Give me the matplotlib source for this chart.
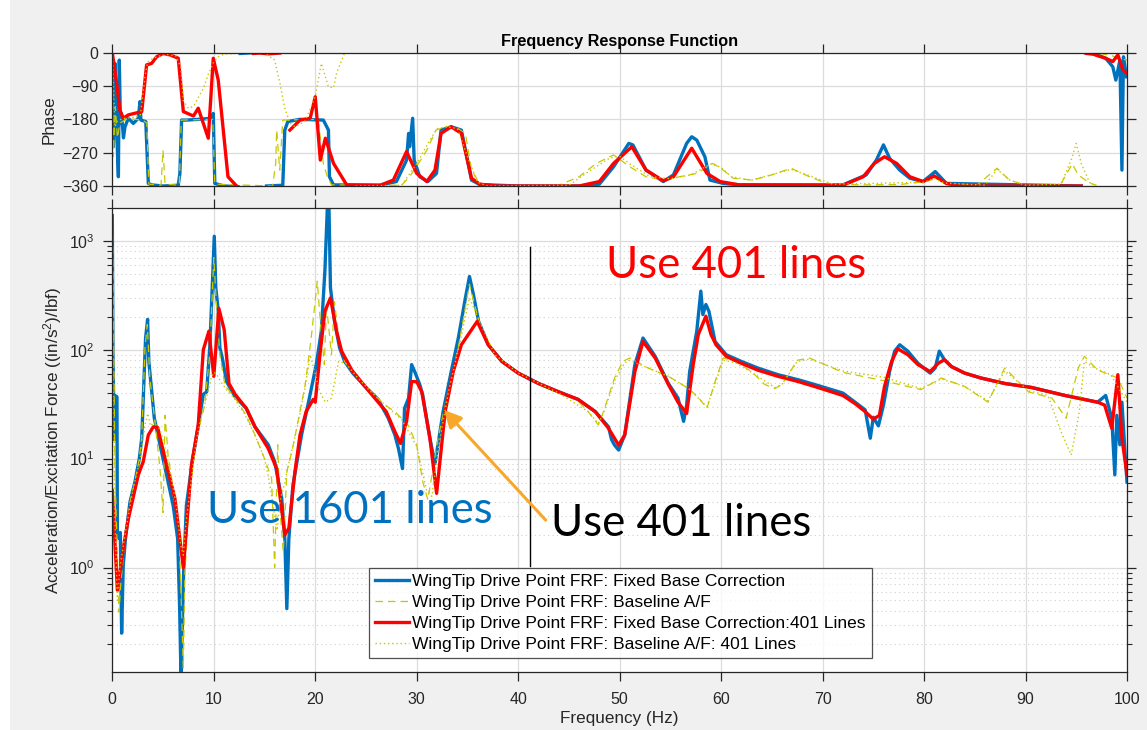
import matplotlib
matplotlib.use("Agg")
import matplotlib.pyplot as plt
import numpy as np
from matplotlib.patches import Rectangle

nan = np.nan

# ---- magnitude (Acceleration/Excitation Force) ----
mag_fixed = [
    (0, 1700), (0.07, 84), (0.2, 15), (0.26, 38), (0.46, 37), (0.5, 2.1), (0.66, 1.85),
    (0.79, 2.1), (0.92, 0.25), (1.08, 1.05), (1.3, 1.85), (1.74, 4.0), (2.23, 6.1),
    (2.66, 10), (2.9, 15.4), (3.28, 128), (3.48, 190), (3.6, 78), (4.14, 23.5),
    (4.7, 13.4), (5.35, 7.1), (6.0, 3.7), (6.44, 1.85), (6.63, 0.45), (6.77, 0.1),
    (7.03, 0.91), (7.3, 3.7), (7.88, 9.4), (8.47, 20), (8.97, 39), (9.3, 41),
    (9.62, 111), (9.85, 370), (10.05, 1100), (10.2, 370), (10.45, 225), (10.6, 104),
    (10.84, 84), (11.26, 51), (12.1, 37), (13.2, 29), (14.06, 19.6), (15.37, 13.4),
    (16.0, 9.4), (16.7, 4.3), (17.0, 1.85), (17.2, 0.42), (17.4, 1.85), (17.8, 5.7),
    (18.65, 16.5), (19.5, 39), (20.1, 73), (20.6, 148), (20.95, 525), (21.2, 2100),
    (21.35, 2100), (21.5, 370), (21.9, 182), (22.4, 104), (22.9, 78), (23.7, 61),
    (24.9, 46), (26.2, 35), (27.2, 23.5), (27.85, 16.5), (28.2, 12.4), (28.6, 8.1),
    (28.8, 29), (29.2, 36), (29.5, 73), (29.8, 63), (30.3, 48), (30.6, 38),
    (31.3, 15.4), (31.8, 9), (32.6, 27), (33.4, 63), (34.1, 128), (34.8, 299),
    (35.2, 470), (35.6, 318), (36.1, 182), (37.05, 111), (38.4, 78), (40.0, 61),
    (42.0, 49), (44.0, 41), (45.9, 35), (47.6, 27), (48.9, 19.6), (49.2, 15),
    (49.5, 13.3), (49.9, 12), (50.5, 16.5), (51.5, 73), (52.3, 128), (53.5, 87),
    (54.8, 49), (55.75, 36), (56.3, 22), (56.6, 31), (56.9, 63), (57.6, 148),
    (58.0, 345), (58.2, 210), (58.5, 260), (58.8, 225), (59.4, 119), (60.5, 90),
    (62.0, 78), (63.6, 68), (65.6, 59), (67.6, 53), (69.2, 48), (70.9, 43),
    (72.0, 40), (73.2, 33), (74.2, 28), (74.7, 15.4), (75.0, 24), (75.5, 20),
    (76.0, 31), (76.6, 63), (77.1, 97), (77.6, 111), (78.4, 97), (79.4, 75),
    (80.6, 61), (81.1, 68), (81.5, 97), (82.0, 81), (82.7, 70), (84.0, 61),
    (85.6, 55), (87.95, 49), (90.6, 45), (93.9, 38), (97.1, 33), (97.9, 38),
    (98.5, 23.5), (98.8, 7.1), (99.0, 25), (99.3, 13.4), (99.5, 33), (99.8, 11.6),
    (100, 6.1),
]

mag_baseline = [
    (0, 1500), (0.07, 525), (0.26, 7.6), (0.66, 0.39), (0.85, 0.74), (1.25, 1.85),
    (1.74, 4.0), (2.23, 6.1), (2.66, 10), (2.9, 16), (3.22, 104), (3.45, 170),
    (3.7, 55), (4.2, 22), (4.7, 8.1), (5.0, 3.2), (5.2, 25), (5.5, 10.6), (6.0, 5.3),
    (6.6, 1.85), (7.0, 0.12), (7.16, 0.91), (7.65, 5.3), (8.3, 15.4), (9.1, 31),
    (9.6, 90), (10.0, 700), (10.3, 225), (10.6, 90), (11.1, 47), (12.1, 36),
    (13.2, 25), (14.06, 16.5), (15.0, 10), (15.7, 6.6), (16.0, 1.0), (16.3, 13.4),
    (16.5, 3.7), (16.85, 1.4), (17.2, 7.6), (17.7, 11.6), (18.3, 22), (19.0, 47),
    (19.6, 128), (20.2, 425), (20.5, 182), (20.9, 73), (21.1, 260), (21.6, 90),
    (21.9, 275), (22.4, 111), (22.9, 78), (24.2, 55), (25.5, 41), (26.9, 31),
    (27.85, 27), (28.5, 23.5), (29.2, 20), (30.0, 13.4), (30.6, 6.1), (31.1, 4.2),
    (32.1, 15.4), (33.1, 41), (34.1, 104), (35.2, 400), (35.7, 260), (36.4, 148),
    (37.7, 90), (40.0, 61), (42.0, 49), (44.0, 40), (45.6, 36), (46.9, 27),
    (47.9, 20.4), (48.4, 27), (49.5, 55), (50.3, 78), (51.0, 84), (52.8, 68),
    (54.8, 57), (56.8, 44), (57.8, 36), (58.6, 29), (59.4, 51), (60.2, 84),
    (61.4, 78), (63.0, 63), (64.3, 48), (65.3, 44), (66.0, 48), (67.5, 80),
    (68.7, 84), (72.0, 62), (76.0, 52), (79.7, 43), (81.7, 55), (84.0, 46),
    (86.3, 33), (87.95, 68), (90.3, 41), (92.6, 36), (94.0, 23.5), (95.2, 68),
    (95.8, 87), (97.1, 65), (99.1, 55), (100, 36),
]

mag_fixed_401 = [
    (0, 5.1), (0.5, 0.62), (1.08, 1.5), (1.58, 2.8), (2.56, 7.1), (3.05, 9.4),
    (3.55, 16.5), (4.04, 19.6), (4.47, 19.3), (5.35, 8.7), (6.17, 4.3), (7.0, 1.0),
    (7.8, 8.7), (8.47, 20.4), (8.97, 100), (9.52, 148), (10.0, 57), (10.5, 240),
    (11.03, 152), (11.5, 49), (12.1, 39), (13.2, 29), (14.06, 19.6), (15.37, 12.4),
    (16.2, 8.1), (17.0, 2.0), (17.4, 2.3), (18.0, 7.6), (18.5, 16.5), (19.1, 27),
    (19.8, 35), (20.0, 33), (20.5, 97), (20.95, 225), (21.5, 299), (22.1, 148),
    (22.6, 97), (23.6, 65), (24.9, 46), (26.2, 33), (27.0, 27), (27.85, 17.7),
    (28.4, 13.8), (29.0, 22), (29.5, 51), (30.0, 51), (30.5, 41), (31.3, 15.4),
    (31.96, 4.8), (32.8, 27), (33.6, 63), (34.4, 111), (35.96, 182), (37.05, 111),
    (38.4, 78), (40.0, 61), (42.0, 49), (44.0, 41), (45.9, 35), (47.6, 27),
    (48.9, 19), (49.9, 13.3), (50.5, 16.5), (51.5, 63), (52.3, 119), (53.5, 84),
    (54.8, 48), (55.75, 33), (56.6, 26), (57.25, 73), (57.75, 138), (58.5, 203),
    (59.0, 138), (59.5, 111), (60.5, 87), (62.0, 75), (63.6, 65), (65.6, 57),
    (67.6, 51), (69.2, 46), (70.9, 41), (72.0, 38), (73.2, 32), (74.2, 27),
    (75.0, 23), (75.6, 25), (76.1, 46), (76.8, 78), (77.4, 102), (78.4, 90),
    (79.4, 73), (80.6, 63), (81.4, 75), (82.0, 81), (82.7, 70), (84.0, 61),
    (85.6, 55), (87.95, 49), (90.6, 45), (93.9, 38), (97.1, 33), (97.8, 31),
    (98.5, 19), (99.1, 59), (99.5, 15.4), (100, 7.1),
]

mag_baseline_401 = [
    (0, 900), (0.25, 3), (0.5, 0.5), (0.75, 1.0), (1.25, 2), (2.0, 5), (2.75, 10),
    (3.25, 21), (3.5, 26), (3.75, 20), (4.25, 22), (4.75, 18), (5.25, 12), (5.75, 7),
    (6.25, 4), (6.75, 1.6), (7.0, 1.3), (7.25, 2.5), (7.75, 6), (8.25, 14),
    (8.75, 24), (9.25, 35), (9.75, 55), (10.0, 62), (10.25, 60), (10.75, 50),
    (11.25, 43), (12.0, 36), (13.0, 26), (14.0, 17), (15.0, 10), (15.5, 6), (16.0, 3),
    (16.25, 2.2), (16.5, 4), (17.0, 6), (17.5, 10), (18.25, 20), (19.0, 45),
    (19.5, 90), (20.0, 60), (20.5, 40), (21.0, 33), (21.6, 36), (22.3, 78),
    (23.0, 75), (24.2, 55), (25.5, 41), (26.9, 31), (28.5, 23), (30.0, 13),
    (31.0, 5), (31.5, 4.5), (32.1, 12), (33.1, 40), (34.1, 100), (35.2, 300),
    (36.0, 200), (37.7, 90), (40.0, 61), (44.0, 40), (46.9, 27), (47.9, 21),
    (48.4, 26), (49.5, 52), (50.5, 76), (51.0, 80), (52.8, 68), (54.8, 57),
    (56.8, 44), (58.6, 30), (59.4, 48), (60.2, 80), (61.4, 76), (63.0, 62),
    (65.3, 45), (66.0, 48), (67.5, 78), (68.7, 82), (72.0, 64), (76.0, 56),
    (79.7, 44), (81.7, 54), (84.0, 46), (86.3, 34), (87.95, 64), (90.3, 42),
    (92.2, 38), (93.5, 17.7), (94.5, 10.8), (95.3, 27), (95.8, 78), (96.8, 68),
    (98.4, 59), (100, 33),
]

# ---- phase (deg), nan = wrapped off the axes ----
ph_fixed = [
    (0, 0), (0.1, -254), (0.26, -29), (0.43, -209), (0.6, -335), (0.69, -20),
    (0.8, -191), (0.9, -164), (1.1, -230), (1.25, -200), (1.58, -177), (2.07, -191),
    (2.56, -177), (2.73, -132), (2.82, -182), (3.3, -186), (3.55, -353), (3.87, -357),
    (5.0, -360), (6.5, -358), (6.66, -326), (6.83, -182), (7.3, -182), (8.5, -180),
    (9.8, -177), (9.95, -164), (10.1, -353), (11.0, -360), (12.4, -362), (12.5, nan),
    (12.6, -2), (13.9, 0), (14.0, nan), (15.2, -360), (16.8, -358), (17.0, -209),
    (17.3, -186), (18.5, -180), (20.8, -182), (21.3, -209), (21.4, -335),
    (21.8, -357), (26.4, -358), (28.0, -348), (29.0, -290), (29.2, -218),
    (29.3, -254), (29.6, -177), (29.75, -290), (30.3, -335), (31.1, -348),
    (31.95, -326), (32.4, -209), (33.4, -200), (34.4, -209), (35.4, -344),
    (36.2, -356), (40.0, -360), (46.0, -360), (48.0, -355), (49.4, -308),
    (50.9, -245), (51.3, -249), (52.6, -317), (54.3, -348), (55.3, -330),
    (56.6, -245), (57.1, -227), (57.6, -236), (58.4, -281), (58.9, -344),
    (60.2, -353), (61.8, -357), (72.0, -357), (74.3, -330), (75.3, -290),
    (76.0, -249), (76.6, -285), (77.6, -317), (78.6, -339), (79.9, -348),
    (81.1, -321), (82.2, -353), (95.5, -360), (95.7, nan), (95.9, 0), (96.65, -2),
    (97.9, -15), (98.6, -38), (98.9, -74), (99.3, -20), (99.5, -317), (99.65, -11),
    (99.95, -65),
]

ph_baseline = [
    (0, 0), (0.1, -280), (0.3, -146), (0.5, -230), (0.75, -190), (1.5, -178),
    (3.0, -182), (3.4, -190), (3.6, -355), (4.8, -358), (5.0, -263), (5.2, -355),
    (6.6, -358), (6.8, -182), (9.9, -180), (10.1, -355), (15.8, -360), (16.1, -300),
    (16.2, -209), (16.5, -317), (16.8, -182), (20.3, -180), (20.5, -230),
    (20.8, -300), (21.2, -335), (21.6, -357), (28.5, -358), (29.3, -335),
    (30.6, -281), (31.0, -263), (31.9, -209), (32.9, -200), (33.8, -200),
    (34.8, -218), (35.4, -317), (36.2, -353), (37.0, -360), (44.0, -358),
    (46.0, -335), (47.7, -299), (49.4, -276), (51.0, -308), (52.6, -335),
    (54.3, -344), (55.9, -335), (57.6, -326), (59.2, -299), (60.2, -317),
    (61.2, -339), (63.1, -344), (65.0, -330), (66.9, -312), (68.7, -335),
    (70.4, -353), (73.7, -357), (77.6, -356), (80.2, -348), (81.2, -339),
    (82.2, -353), (85.2, -358), (87.2, -312), (88.4, -344), (90.1, -358),
    (93.4, -358), (94.2, -320), (94.6, -300), (95.2, -330), (96.3, -352),
    (97.0, -358), (97.1, nan), (97.3, -2), (98.5, -8), (99.2, -15), (100, -20),
]

ph_fixed_401 = [
    (0, 0), (0.43, -83), (0.75, -155), (1.08, -177), (1.58, -168), (2.9, -159),
    (3.38, -33), (3.87, -29), (4.37, -11), (5.0, -2), (5.7, -6), (6.5, -15),
    (7.0, -159), (8.0, -171), (8.47, -150), (9.46, -231), (9.95, -15), (10.44, -74),
    (11.4, -335), (12.25, -360), (12.5, nan), (13.9, -2), (14.5, -1), (15.4, -3),
    (16.5, -1), (16.7, nan), (17.5, -209), (18.5, -182), (19.5, -177), (20.0, -119),
    (20.5, -290), (21.0, -231), (21.8, -299), (23.1, -357), (26.4, -358),
    (27.7, -344), (29.0, -267), (30.0, -326), (31.0, -348), (31.8, -317),
    (32.4, -218), (33.4, -200), (34.4, -218), (35.4, -339), (36.2, -355),
    (37.9, -360), (46.0, -360), (48.0, -348), (49.4, -299), (51.2, -254),
    (52.6, -317), (54.3, -346), (55.3, -335), (57.1, -258), (58.6, -326),
    (59.9, -348), (61.8, -357), (72.0, -358), (74.0, -335), (75.1, -299),
    (76.1, -281), (77.3, -299), (78.6, -335), (79.9, -348), (81.0, -333),
    (82.2, -353), (83.5, -360), (95.5, -360), (95.7, nan), (96.0, -2), (96.65, -4),
    (97.9, -15), (98.6, -24), (99.1, -6), (99.6, -47), (99.95, -54),
]

ph_baseline_401 = [
    (0, 0), (0.25, -200), (0.5, -185), (1.0, -178), (2.0, -175), (2.75, -170),
    (3.25, -60), (3.5, -25), (4.0, -15), (4.75, -8), (5.5, -5), (6.25, -8),
    (6.75, -40), (7.0, -130), (7.5, -150), (8.0, -145), (8.5, -120), (9.0, -95),
    (9.5, -55), (10.0, -25), (10.5, -10), (11.0, -4), (12.0, -2), (13.0, 0),
    (15.0, 0), (16.0, -20), (16.5, -80), (17.0, -150), (17.5, -190), (18.0, -200),
    (19.0, -185), (20.0, -118), (20.6, -29), (21.3, -92), (21.8, -95), (22.1, -55),
    (22.9, 0), (23.0, nan), (24.0, -360), (28.5, -358), (30.0, -300), (31.0, -250),
    (32.0, -205), (33.0, -200), (34.0, -205), (35.0, -280), (36.0, -350),
    (37.0, -360), (45.0, -358), (47.0, -320), (49.0, -285), (50.0, -280),
    (51.0, -300), (53.0, -335), (55.0, -340), (57.0, -330), (59.0, -300),
    (60.0, -310), (61.0, -335), (63.0, -344), (66.9, -315), (69.0, -335),
    (71.0, -355), (80.0, -350), (81.0, -340), (82.0, -352), (86.0, -358),
    (87.2, -315), (88.5, -345), (90.0, -358), (93.5, -355), (94.5, -290),
    (95.0, -245), (95.5, -300), (96.3, -350), (97.0, -360),
]

labels = [
    "WingTip Drive Point FRF: Fixed Base Correction",
    "WingTip Drive Point FRF: Baseline A/F",
    "WingTip Drive Point FRF: Fixed Base Correction:401 Lines",
    "WingTip Drive Point FRF: Baseline A/F: 401 Lines",
]

BLUE = "#0072BD"
RED = "#FF0000"
YEL = "#C8C800"
AXC = "#262626"
GRID = "#dcdcdc"

styles = [
    dict(color=BLUE, lw=2.4, ls="-"),
    dict(color=YEL, lw=0.9, ls=(0, (6, 4))),
    dict(color=RED, lw=2.4, ls="-"),
    dict(color=YEL, lw=1.0, ls=(0, (1, 2))),
]

plt.rcParams["font.family"] = ["Liberation Sans", "DejaVu Sans"]
plt.rcParams["font.size"] = 11.5
plt.rcParams["mathtext.fontset"] = "custom"
plt.rcParams["mathtext.rm"] = "Liberation Sans"
plt.rcParams["mathtext.it"] = "Liberation Sans:italic"

fig = plt.figure(figsize=(11.47, 7.30), dpi=100, facecolor="#f0f0f0")
fig.patches.append(Rectangle((0, 0), 10 / 1147, 1, transform=fig.transFigure,
                             facecolor="white", edgecolor="none", zorder=-5))

left, width = 112.3 / 1147, 1014.7 / 1147
ax_ph = fig.add_axes([left, (730 - 186) / 730, width, (186 - 52.7) / 730])
ax_mag = fig.add_axes([left, (730 - 672) / 730, width, (672 - 208) / 730])

for ax in (ax_ph, ax_mag):
    for s in ax.spines.values():
        s.set_color(AXC)
        s.set_linewidth(0.9)
    ax.tick_params(which="both", direction="out", colors=AXC, top=True, right=True,
                   labelsize=11.5)
    ax.tick_params(which="major", length=6.5, width=0.9)
    ax.set_xlim(0, 100)
    ax.set_xticks(np.arange(0, 101, 10))
    ax.grid(True, which="major", color=GRID, lw=0.9)
    ax.set_axisbelow(True)

# phase panel
for data, st in zip([ph_fixed, ph_baseline, ph_fixed_401, ph_baseline_401], styles):
    f, v = np.array(data, dtype=float).T
    ax_ph.plot(f, v, **st)
ax_ph.set_ylim(-360, 0)
ax_ph.set_yticks([0, -90, -180, -270, -360])
ax_ph.tick_params(labelbottom=False)
ax_ph.set_ylabel("Phase", color=AXC, fontsize=12.3)
ax_ph.set_title("Frequency Response Function", fontweight="bold", fontsize=11.7,
                color="black", pad=5)

# magnitude panel
handles = []
for data, st, lab in zip([mag_fixed, mag_baseline, mag_fixed_401, mag_baseline_401],
                         styles, labels):
    f, v = np.array(data, dtype=float).T
    ln, = ax_mag.plot(f, v, label=lab, **st)
    handles.append(ln)
ax_mag.set_yscale("log")
ax_mag.set_ylim(0.11, 2000)
ax_mag.tick_params(which="minor", length=3.5, width=0.8)
ax_mag.tick_params(axis="x", pad=8)
ax_mag.tick_params(axis="y", which="major", pad=6)
ax_mag.grid(True, which="minor", axis="y", color="#d0d0d0", lw=0.8, ls=(0, (1, 3)))
ax_mag.set_xlabel("Frequency (Hz)", color=AXC, fontsize=12.3, labelpad=3)
ax_mag.set_ylabel("Acceleration/Excitation Force ((in/s$^2$)/lbf)", color=AXC,
                  fontsize=12.3)

# annotations
ax_mag.plot([41.2, 41.2], [1.04, 880], color="black", lw=1.0)
ax_mag.text(0.4865, 0.875, "Use 401 lines", transform=ax_mag.transAxes, color=RED,
            fontsize=31.5, family="Lato", va="center", ha="left")
ax_mag.text(0.0935, 0.349, "Use 1601 lines", transform=ax_mag.transAxes, color="#0070C0",
            fontsize=31.5, family="Lato", va="center", ha="left")
ax_mag.text(0.4325, 0.319, "Use 401 lines", transform=ax_mag.transAxes, color="black",
            fontsize=31.5, family="Lato", va="center", ha="left")
ax_mag.annotate("", xy=(32.5, 29.2), xytext=(42.9, 2.61),
                arrowprops=dict(arrowstyle="-|>,head_length=0.9,head_width=0.45",
                                color="#F8A72A", lw=2.2))

leg = ax_mag.legend(handles=handles, loc="lower left", bbox_to_anchor=(0.253, 0.030),
                    fontsize=12.5, frameon=True, fancybox=False, handlelength=1.95,
                    handletextpad=0.2, borderpad=0.35, labelspacing=0.34,
                    borderaxespad=0)
leg.get_frame().set_edgecolor(AXC)
leg.get_frame().set_linewidth(0.9)

fig.savefig("out.png", dpi=100, facecolor=fig.get_facecolor())
